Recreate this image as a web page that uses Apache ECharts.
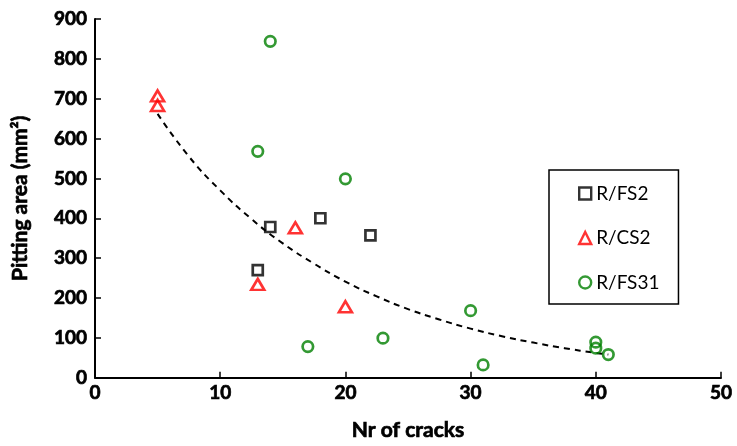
<!DOCTYPE html>
<html><head><meta charset="utf-8">
<script src="https://cdn.jsdelivr.net/npm/echarts@6/dist/echarts.min.js"></script>
<style>html,body{margin:0;padding:0;background:#fff}#c{width:737px;height:446px}</style>
</head><body><div id="c"></div>
<script>
const seriesNames = ['R/FS2', 'R/CS2', 'R/FS31'];
const fs2 = [[14, 378], [13, 270], [18, 400], [22, 357]];
const cs2 = [[5, 707], [5, 683], [13, 234], [16, 376], [20, 178]];
const fs31 = [[14, 844], [13, 568], [20, 499], [17, 78], [23, 99], [30, 168], [31, 32], [40, 89], [40, 74], [41, 58]];
// dashed trend curve
const trend = [[5, 662], [7.5, 555], [10, 470], [12.5, 398], [15, 337], [17.5, 286], [20, 241], [22.5, 204], [25, 172], [27.5, 146], [30, 123], [32.5, 104], [35, 88], [37.5, 74], [40, 62], [41, 58]];
const xTicks = [0, 10, 20, 30, 40, 50];
const yTicks = [0, 100, 200, 300, 400, 500, 600, 700, 800, 900];

const font = 'Lato, "DejaVu Sans", sans-serif';
const heavy = {fontFamily: font, fontWeight: 'bold', color: '#000', textBorderColor: '#000', textBorderWidth: 0.7};
const chart = echarts.init(document.getElementById('c'), null, {renderer: 'canvas'});
const hollow = 'rgba(0,0,0,0)';
chart.setOption({
  animation: false,
  backgroundColor: '#fff',
  grid: {left: 95, right: 16, top: 19, bottom: 65, containLabel: false},
  xAxis: {
    type: 'value', min: xTicks[0], max: xTicks[xTicks.length - 1], interval: 10,
    name: 'Nr of cracks', nameLocation: 'middle', nameGap: 42,
    nameTextStyle: Object.assign({fontSize: 21}, heavy),
    axisLine: {lineStyle: {color: '#000', width: 2}},
    axisTick: {show: true, inside: true, length: 6, lineStyle: {color: '#000', width: 1.5}},
    axisLabel: Object.assign({fontSize: 19, margin: 6}, heavy),
    splitLine: {show: false}
  },
  yAxis: {
    type: 'value', min: yTicks[0], max: yTicks[yTicks.length - 1], interval: 100,
    name: 'Pitting area (mm²)', nameLocation: 'middle', nameGap: 64, nameRotate: 90,
    nameTextStyle: Object.assign({fontSize: 21}, heavy),
    axisLine: {show: true, lineStyle: {color: '#000', width: 2}},
    axisTick: {show: true, inside: true, length: 6, lineStyle: {color: '#000', width: 1.5}},
    axisLabel: Object.assign({fontSize: 19, margin: 8}, heavy),
    splitLine: {show: false}
  },
  legend: {
    orient: 'vertical', left: 549, top: 170,
    data: seriesNames,
    backgroundColor: '#fff', borderColor: '#000', borderWidth: 1.5, borderRadius: 0,
    padding: [14, 19, 12, 29],
    itemWidth: 12, itemHeight: 12, itemGap: 25.5,
    itemStyle: {borderWidth: 2.4},
    textStyle: {fontFamily: font, fontSize: 19, color: '#000', padding: [0, 0, 0, 0]}
  },
  series: [
    {
      type: 'line', name: 'trend', data: trend, smooth: true, symbol: 'none',
      lineStyle: {color: '#000', width: 2, type: [6, 5]}, z: 1, silent: true
    },
    {
      type: 'scatter', name: seriesNames[0], data: fs2, symbol: 'rect', symbolSize: 10,
      itemStyle: {color: hollow, borderColor: '#000', borderWidth: 2.7}, z: 3
    },
    {
      type: 'scatter', name: seriesNames[1], data: cs2, symbol: 'triangle', symbolSize: [13, 11],
      itemStyle: {color: hollow, borderColor: '#ff0000', borderWidth: 2.6}, z: 3
    },
    {
      type: 'scatter', name: seriesNames[2], data: fs31, symbol: 'circle', symbolSize: 10.5,
      itemStyle: {color: hollow, borderColor: '#008000', borderWidth: 2.7}, z: 3
    }
  ]
});
</script></body></html>
